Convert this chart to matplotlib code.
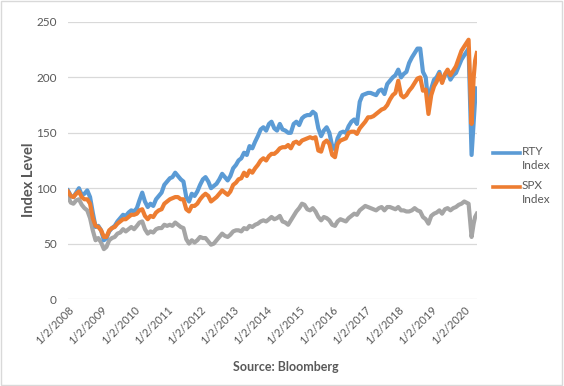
import numpy as np
import pandas as pd
import matplotlib
matplotlib.use('Agg')
import matplotlib.pyplot as plt
from matplotlib.lines import Line2D
from matplotlib.patches import Rectangle

plt.rcParams['font.family'] = ['Lato', 'DejaVu Sans']

# monthly readings, Jan 2008 .. Dec 2019, then a few points in 2020
months = list(pd.date_range('2008-01-01', '2019-12-01', freq='MS') + pd.Timedelta(days=1))
dates_2020 = pd.to_datetime(['2020-01-02', '2020-02-19', '2020-03-23', '2020-04-15', '2020-05-01', '2020-05-20'])
dates = months + list(dates_2020)

rty = [98, 93, 92, 96, 100, 94, 95, 98, 92, 78, 65, 66,
       62, 53, 55, 61, 64, 66, 70, 73, 76, 75, 78, 80,
       79, 82, 89, 96, 88, 83, 86, 84, 90, 93, 96, 103,
       106, 109, 110, 114, 111, 108, 106, 92, 88, 95, 93, 97,
       103, 108, 110, 106, 100, 102, 104, 108, 113, 110, 107, 111,
       118, 121, 125, 127, 132, 130, 138, 136, 142, 147, 153, 155,
       152, 158, 160, 154, 152, 158, 153, 152, 150, 150, 158, 160,
       157, 163, 165, 166, 166, 169, 167, 154, 147, 152, 155, 150,
       138, 135, 145, 150, 151, 150, 156, 160, 162, 158, 178, 184,
       185, 186, 186, 185, 184, 188, 189, 185, 194, 197, 200, 202,
       207, 200, 203, 205, 213, 218, 222, 226, 226, 205, 200, 175,
       190, 198, 200, 205, 196, 202, 205, 198, 202, 204, 210, 216,
       220, 226, 130, 160, 180, 190]

spx = [97, 93, 92, 95, 97, 92, 90, 90, 86, 73, 66, 65,
       62, 56, 56, 62, 64, 65, 68, 70, 72, 72, 74, 76,
       76, 77, 80, 81, 75, 72, 75, 74, 78, 80, 81, 86,
       88, 90, 91, 92, 92, 90, 90, 81, 79, 84, 84, 86,
       90, 93, 95, 93, 88, 90, 92, 95, 98, 96, 94, 97,
       103, 105, 108, 109, 114, 111, 116, 114, 118, 121, 125, 127,
       125, 129, 131, 131, 133, 136, 137, 137, 139, 136, 141, 142,
       140, 143, 144, 145, 146, 145, 146, 134, 133, 141, 143, 140,
       130, 128, 140, 143, 144, 145, 150, 151, 151, 149, 154, 157,
       160, 164, 164, 165, 167, 169, 171, 172, 175, 180, 184, 186,
       197, 184, 182, 184, 188, 191, 195, 199, 200, 188, 189, 167,
       184, 192, 196, 203, 195, 203, 207, 202, 206, 210, 217, 224,
       228, 234, 158, 200, 215, 222]

ratio = [92, 87, 86, 89, 90, 85, 82, 80, 73, 62, 53, 55,
         51, 45, 47, 53, 55, 56, 59, 60, 63, 61, 63, 65,
         63, 66, 69, 70, 63, 59, 61, 60, 63, 64, 64, 67,
         66, 67, 66, 69, 67, 65, 64, 54, 50, 53, 51, 53,
         56, 55, 55, 52, 49, 50, 53, 56, 59, 57, 56, 58,
         61, 62, 62, 61, 64, 63, 66, 65, 67, 68, 70, 71,
         70, 72, 74, 72, 73, 75, 70, 69, 67, 71, 75, 79,
         82, 86, 85, 81, 80, 82, 79, 74, 71, 74, 73, 71,
         67, 66, 70, 72, 71, 70, 73, 75, 77, 76, 80, 82,
         84, 83, 82, 81, 80, 82, 83, 80, 83, 83, 82, 81,
         83, 80, 80, 79, 79, 80, 82, 80, 79, 74, 72, 68,
         75, 77, 78, 80, 77, 81, 82, 80, 82, 83, 85, 86,
         88, 86, 56, 68, 74, 77]

tick_years = list(range(2008, 2021))
tick_labels = ['1/2/%d' % y for y in tick_years]

blue = '#5B9BD5'
orange = '#ED7D31'
grey = '#A5A5A5'
txt = '#595959'

fig = plt.figure(figsize=(5.64, 3.86), dpi=100)
ax = fig.add_axes([68/564, 1-299/386, (477-68)/564, (299-22)/386])

ax.plot(dates, rty, color=blue, lw=3.0, solid_joinstyle='round', zorder=3)
ax.plot(dates, spx, color=orange, lw=3.0, solid_joinstyle='round', zorder=4)
ax.plot(dates, ratio, color=grey, lw=3.0, solid_joinstyle='round', zorder=2)

ax.set_ylim(0, 250)
ax.set_yticks(np.arange(0, 251, 50))
ax.set_xlim(pd.Timestamp('2008-01-02'), pd.Timestamp('2020-05-22'))
ax.set_xticks([pd.Timestamp('%d-01-02' % y) for y in tick_years])
ax.set_xticklabels(tick_labels, rotation=45, ha='right', rotation_mode='anchor')

ax.grid(axis='y', color='#D9D9D9', lw=0.9)
ax.set_axisbelow(True)
for s in ax.spines.values():
    s.set_visible(False)
ax.tick_params(axis='both', length=0, colors=txt, labelsize=8.5)
ax.tick_params(axis='y', pad=8)
ax.tick_params(axis='x', pad=4, labelsize=8)

fig.text(29/564, 1-180/386, 'Index Level', rotation=90, ha='center', va='center',
         fontsize=10.5, fontweight='bold', color=txt)
fig.text(286/564, 1-367/386, 'Source: Bloomberg', ha='center', va='center',
         fontsize=9, fontweight='bold', color=txt)

# legend drawn by hand, line aligned with the first text line
for yy, col, lab in [(153, blue, 'RTY\nIndex'), (187, orange, 'SPX\nIndex')]:
    fig.add_artist(Line2D([493/564, 520/564], [1-yy/386, 1-yy/386], color=col, lw=2.6,
                          transform=fig.transFigure))
    fig.text(522/564, 1-(yy-7)/386, lab, ha='left', va='top', fontsize=8.5,
             color=txt, linespacing=1.3)

fig.add_artist(Rectangle((0.002, 0.003), 0.995, 0.994, transform=fig.transFigure,
                         fill=False, edgecolor='#D9D9D9', lw=1))

fig.savefig('out.png', dpi=100)
